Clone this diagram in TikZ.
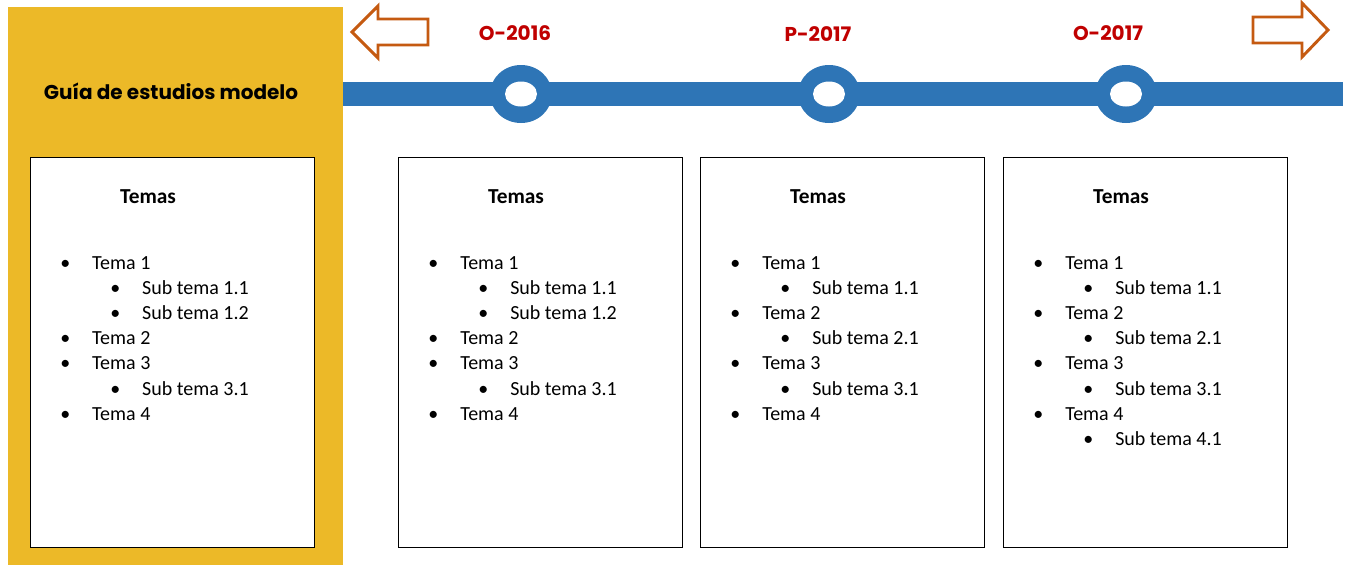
\documentclass[tikz,border=0pt]{standalone}
\usepackage{fontspec}
\setmainfont{Carlito}
\newfontfamily\headfont{Poppins}
\usetikzlibrary{positioning,shapes.geometric}
\definecolor{guiagold}{RGB}{236,185,40}
\definecolor{lineblue}{RGB}{46,117,182}
\definecolor{datered}{RGB}{192,0,0}
\definecolor{arroworange}{RGB}{197,90,17}
\tikzset{
  temabox/.style={draw=black,fill=white,line width=0.8pt,minimum width=284*0.75pt,minimum height=390*0.75pt,anchor=north west,inner sep=0pt},
  temashead/.style={font=\fontsize{16}{18}\selectfont\bfseries,anchor=base},
  item/.style={font=\fontsize{15}{17}\selectfont,anchor=base west,inner sep=0pt},
  datelabel/.style={font=\headfont\fontsize{15}{17}\selectfont\bfseries,text=datered,anchor=base},
  stop/.style={ellipse,fill=lineblue,minimum width=62*0.75pt,minimum height=58*0.75pt,inner sep=0pt},
  stophole/.style={ellipse,fill=white,minimum width=32*0.75pt,minimum height=25*0.75pt,inner sep=0pt},
  hollowarrow/.style={draw=arroworange,line width=2.2pt,fill=white,line join=miter}
}
\begin{document}
\begin{tikzpicture}[x=0.75pt,y=-0.75pt]
\useasboundingbox (0,0) rectangle (1347,565);
% left panel
\fill[guiagold] (8,7) rectangle (343,565);
\node[font=\headfont\fontsize{15}{17}\selectfont\bfseries,anchor=base] (title) at (171,99) {Guía de estudios modelo};
% timeline
\coordinate (bar-start) at (343,94);
\coordinate (bar-end) at (1343,94);
\draw[lineblue,line width=18pt] (bar-start) -- (bar-end);
\node[stop] (s1) at (521,94) {};
\node[stop] (s2) at (829,94) {};
\node[stop] (s3) at (1126,94) {};
\node[stophole] at (s1) {};
\node[stophole] at (s2) {};
\node[stophole] at (s3) {};
\node[datelabel] (d1) at (515,40) {O-2016};
\node[datelabel] (d2) at (818,41) {P-2017};
\node[datelabel] (d3) at (1108,40) {O-2017};
% arrows
\draw[hollowarrow] (352,32) -- (378,6) -- (378,19) -- (428,19) -- (428,45) -- (378,45) -- (378,58) -- cycle;
\draw[hollowarrow] (1328,30) -- (1302,3) -- (1302,17) -- (1253,17) -- (1253,43) -- (1302,43) -- (1302,57) -- cycle;
% boxes
\node[temabox] (box1) at (30,157) {};
\node[temabox] (box2) at (398,157) {};
\node[temabox] (box3) at (700,157) {};
\node[temabox] (box4) at (1003,157) {};
\foreach \b/\x in {1/30,2/398,3/700,4/1003}
  \node[temashead] (head\b) at ({\x+118},203) {Temas};
\foreach \l/\t [count=\i] in {1/Tema 1,2/Sub tema 1.1,2/Sub tema 1.2,1/Tema 2,1/Tema 3,2/Sub tema 3.1,1/Tema 4}
  \node[item] (b1-\i) at ({30+30+(\l-1)*50},{269+(\i-1)*25.2}) {\makebox[24pt][l]{\textbullet}\t};
\foreach \l/\t [count=\i] in {1/Tema 1,2/Sub tema 1.1,2/Sub tema 1.2,1/Tema 2,1/Tema 3,2/Sub tema 3.1,1/Tema 4}
  \node[item] (b2-\i) at ({398+30+(\l-1)*50},{269+(\i-1)*25.2}) {\makebox[24pt][l]{\textbullet}\t};
\foreach \l/\t [count=\i] in {1/Tema 1,2/Sub tema 1.1,1/Tema 2,2/Sub tema 2.1,1/Tema 3,2/Sub tema 3.1,1/Tema 4}
  \node[item] (b3-\i) at ({700+30+(\l-1)*50},{269+(\i-1)*25.2}) {\makebox[24pt][l]{\textbullet}\t};
\foreach \l/\t [count=\i] in {1/Tema 1,2/Sub tema 1.1,1/Tema 2,2/Sub tema 2.1,1/Tema 3,2/Sub tema 3.1,1/Tema 4,2/Sub tema 4.1}
  \node[item] (b4-\i) at ({1003+30+(\l-1)*50},{269+(\i-1)*25.2}) {\makebox[24pt][l]{\textbullet}\t};
\end{tikzpicture}
\end{document}
